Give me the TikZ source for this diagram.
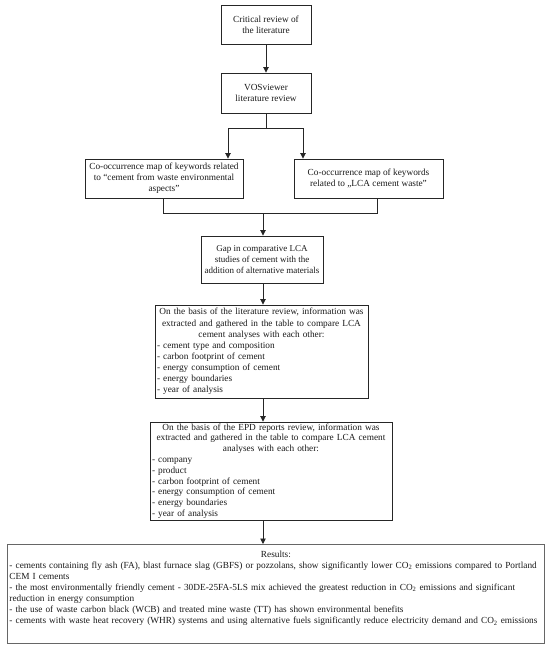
\documentclass[tikz,border=0pt]{standalone}
\usepackage{fontspec}
\setmainfont{Liberation Serif}
\usetikzlibrary{arrows.meta}
\begin{document}
\begin{tikzpicture}[x=1pt,y=-1pt,
  box/.style={draw=black!85, line width=0.9pt, inner xsep=3pt, inner ysep=1pt, font=\fontsize{9.3}{11.1}\selectfont, text=black!90},
  conn/.style={draw=black!85, line width=0.9pt},
  arr/.style={conn, -{Triangle[length=5.5pt,width=5.5pt]}}]
\useasboundingbox (0,0) rectangle (550,651);
% boxes
\node[box, minimum width=90, minimum height=39, align=center] (b1) at (266,24.5) {Critical review of\\ the literature};
\node[box, minimum width=90, minimum height=40, align=center] (b2) at (266,93) {VOSviewer\\ literature review};
\node[box, minimum width=158, minimum height=39, inner xsep=1pt, align=center] (b3) at (164,178.5) {Co-occurrence map of keywords related\\ to “cement from waste environmental\\ aspects”};
\node[box, minimum width=149, minimum height=39, align=center] (b4) at (368.5,178.5) {Co-occurrence map of keywords\\ related to „LCA cement waste”};
\node[box, minimum width=122, minimum height=47, inner xsep=1pt, align=center, font=\fontsize{9}{11.1}\selectfont] (b5) at (262,259.5) {Gap in comparative LCA\\ studies of cement with the\\ addition of alternative materials};
\node[box, minimum width=213, minimum height=93, text width=209, inner xsep=2pt] (b6) at (261.5,351.5) {\centering On the basis of the literature review, information was\\ extracted and gathered in the table to compare LCA\\ cement analyses with each other:\par\raggedright
- cement type and composition\\
- carbon footprint of cement\\
- energy consumption of cement\\
- energy boundaries\\
- year of analysis\par};
\node[box, minimum width=242, minimum height=98, text width=238, inner xsep=2pt, inner ysep=0pt, font=\fontsize{9.3}{10.8}\selectfont] (b7) at (271,471) {\centering On the basis of the EPD reports review, information was\\ extracted and gathered in the table to compare LCA cement\\ analyses with each other:\par\raggedright
- company\\
- product\\
- carbon footprint of cement\\
- energy consumption of cement\\
- energy boundaries\\
- year of analysis\par};
\node[box, draw=black!60, minimum width=537, minimum height=99, text width=533, inner xsep=2pt, anchor=north west, inner ysep=3pt] (b8) at (7,544) {\centering Results:\par\raggedright
- cements containing fly ash (FA), blast furnace slag (GBFS) or pozzolans, show significantly lower CO\textsubscript{2} emissions compared to Portland\\
CEM I cements\\
- the most environmentally friendly cement - 30DE-25FA-5LS mix achieved the greatest reduction in CO\textsubscript{2} emissions and significant\\
reduction in energy consumption\\
- the use of waste carbon black (WCB) and treated mine waste (TT) has shown environmental benefits\\
- cements with waste heat recovery (WHR) systems and using alternative fuels significantly reduce electricity demand and CO\textsubscript{2} emissions\par\vspace{11pt}};
% connectors
\draw[arr] (b1) -- (b2);
\coordinate (j1) at (266,128);
\coordinate (j1l) at (228,128);
\coordinate (j1r) at (303,128);
\draw[conn] (b2) -- (j1);
\draw[arr] (j1) -- (j1l) -- (j1l |- b3.north);
\draw[arr] (j1) -- (j1r) -- (j1r |- b4.north);
\coordinate (j2l) at (163,213);
\coordinate (j2r) at (377,213);
\coordinate (j2) at (263,213);
\draw[conn] (j2l |- b3.south) -- (j2l) -- (j2r) -- (j2r |- b4.south);
\draw[arr] (j2) -- (j2 |- b5.north);
\coordinate (a5) at (263,283);
\coordinate (a6) at (263,398);
\coordinate (a7) at (263,520);
\draw[arr] (a5 |- b5.south) -- (a5 |- b6.north);
\draw[arr] (a6 |- b6.south) -- (a6 |- b7.north);
\draw[arr] (a7 |- b7.south) -- (a7 |- b8.north);
\end{tikzpicture}
\end{document}
